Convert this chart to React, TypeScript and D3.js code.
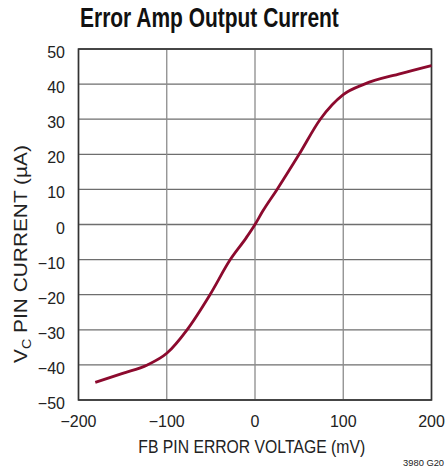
import { useEffect, useRef } from "react";
import * as d3 from "d3";

// FB pin error voltage (mV) vs VC pin current (µA)
const voltage = [-181, -150, -122, -100, -77, -51, -28, -10, 0, 9, 25, 50, 74, 100, 124, 165, 200];
const current = [-45, -42.4, -40, -36.7, -30, -20, -10, -3.8, 0, 3.9, 10, 20, 30, 37, 40, 43, 45.3];

const xTicks = [-200, -100, 0, 100, 200];
const yTicks = [50, 40, 30, 20, 10, 0, -10, -20, -30, -40, -50];

const FONT = "'Liberation Sans', Arial, Helvetica, sans-serif";

const fmt = (d: number) => (d < 0 ? "\u2212" + Math.abs(d) : String(d));

// squeeze a text horizontally (along its own baseline) to the wanted width
function fit(sel: any, base: string, target: number) {
  const w = (sel.node() as SVGTextElement).getComputedTextLength();
  sel.attr("transform", `${base} scale(${target / w}, 1)`);
}

export default function App() {
  const svgRef = useRef<SVGSVGElement>(null);

  useEffect(() => {
    const width = 446;
    const height = 468;
    const margin = { top: 49, right: 14.5, bottom: 68, left: 78.5 };

    const svg = d3.select(svgRef.current)
      .attr("width", width)
      .attr("height", height)
      .style("background", "#ffffff");

    svg.selectAll("*").remove();

    const x = d3.scaleLinear()
      .domain([-200, 200])
      .range([margin.left, width - margin.right]);

    const y = d3.scaleLinear()
      .domain([-50, 50])
      .range([height - margin.bottom, margin.top]);

    // grid
    svg.append("g")
      .selectAll("line")
      .data(yTicks)
      .join("line")
      .attr("x1", x(-200)).attr("x2", x(200))
      .attr("y1", d => y(d)).attr("y2", d => y(d))
      .attr("stroke", "#6e6e6e")
      .attr("stroke-width", 1.3);

    svg.append("g")
      .selectAll("line")
      .data(xTicks)
      .join("line")
      .attr("x1", d => x(d)).attr("x2", d => x(d))
      .attr("y1", y(50)).attr("y2", y(-50))
      .attr("stroke", "#8c8c8c")
      .attr("stroke-width", 1.3);

    // frame
    svg.append("rect")
      .attr("x", x(-200)).attr("y", y(50))
      .attr("width", x(200) - x(-200))
      .attr("height", y(-50) - y(50))
      .attr("fill", "none")
      .attr("stroke", "#333")
      .attr("stroke-width", 1.6);

    // curve
    const line = d3.line<number>()
      .x(d => x(voltage[d]))
      .y(d => y(current[d]))
      .curve(d3.curveMonotoneX);

    svg.append("path")
      .datum(d3.range(voltage.length))
      .attr("fill", "none")
      .attr("stroke", "#8c0a2e")
      .attr("stroke-width", 2.8)
      .attr("d", line);

    // tick labels
    svg.append("g")
      .selectAll("text")
      .data(yTicks)
      .join("text")
      .attr("x", 65)
      .attr("y", d => y(d) + 9)
      .attr("text-anchor", "end")
      .attr("font-family", FONT)
      .attr("font-size", 16)
      .attr("fill", "#222")
      .text(fmt);

    svg.append("g")
      .selectAll("text")
      .data(xTicks)
      .join("text")
      .attr("x", d => x(d))
      .attr("y", 426.5)
      .attr("text-anchor", "middle")
      .attr("font-family", FONT)
      .attr("font-size", 16)
      .attr("fill", "#222")
      .text(fmt);

    // axis titles
    const xTitle = svg.append("text")
      .attr("text-anchor", "middle")
      .attr("font-family", FONT)
      .attr("font-size", 18)
      .attr("fill", "#222")
      .text("FB PIN ERROR VOLTAGE (mV)");
    fit(xTitle, "translate(251.7, 453.3)", 227);

    const yTitle = svg.append("text")
      .attr("text-anchor", "middle")
      .attr("font-family", FONT)
      .attr("font-size", 17.5)
      .attr("fill", "#222");
    yTitle.append("tspan").text("V");
    yTitle.append("tspan").attr("font-size", 12).attr("dy", 4).text("C");
    yTitle.append("tspan").attr("dy", -4).text(" PIN CURRENT (\u00b5A)");
    fit(yTitle, "translate(27, 254) rotate(-90)", 218);

    // title
    const title = svg.append("text")
      .attr("font-family", FONT)
      .attr("font-weight", "bold")
      .attr("font-size", 28)
      .attr("fill", "#111")
      .text("Error Amp Output Current");
    fit(title, "translate(80, 26.7)", 259);

    const code = svg.append("text")
      .attr("text-anchor", "end")
      .attr("font-family", FONT)
      .attr("font-size", 8.5)
      .attr("fill", "#222")
      .text("3980 G20");
    fit(code, "translate(444, 465.7)", 41);
  }, []);

  return <svg ref={svgRef} style={{ position: "absolute", left: 0, top: 0, display: "block" }}></svg>;
}
